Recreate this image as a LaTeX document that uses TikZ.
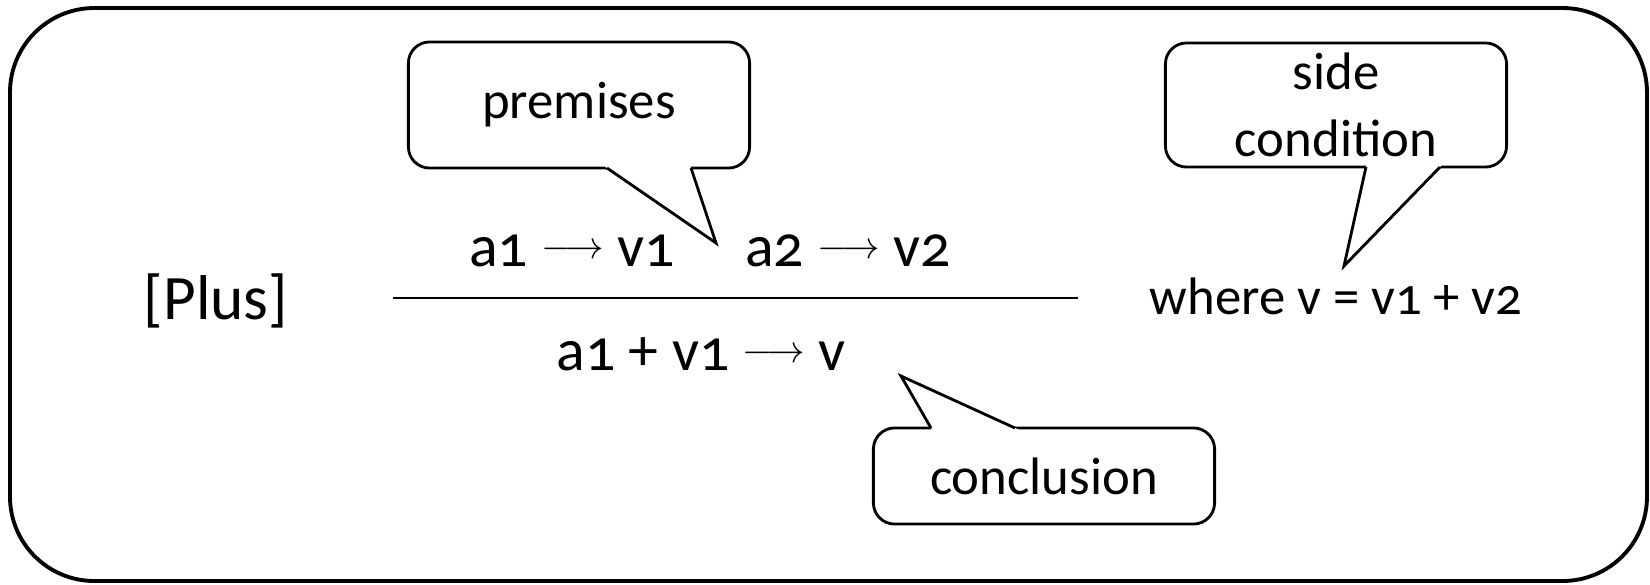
\documentclass[tikz,border=0pt]{standalone}
\usepackage{fontspec}
\setmainfont{Carlito}[Numbers=OldStyle]
\usetikzlibrary{calc}
\newcommand{\yields}{\raisebox{2pt}{\fontsize{11}{11}\selectfont$\longrightarrow$}}

\begin{document}
\begin{tikzpicture}[
  x=0.01cm, y=-0.01cm,
  every node/.style={inner sep=0pt},
  outer/.style={draw, line width=1.1pt, rounded corners=24pt},
  formula/.style={font=\fontsize{17}{21}\selectfont, anchor=base},
  note/.style={font=\fontsize{15}{19}\selectfont, align=center},
  bubble/.style={note, draw, line width=0.8pt, rounded corners=6pt,
                 minimum width=3.41cm},
  tail/.style={line width=0.8pt, line join=miter},
  bar/.style={line width=0.7pt}
]
\useasboundingbox (0,0) rectangle (1650,584);
\draw[outer] (10,8) rectangle (1647,581);

% the rule
\node[formula, font=\fontsize{18}{22}\selectfont] (rule) at (216,319) {[Plus]};
\node[formula] (prem1) at (572,266) {a1 \yields{} v1};
\node[formula] (prem2) at (848,266) {a2 \yields{} v2};
\node[formula] (concl) at (701,370) {a1 + v1 \yields{} v};
\coordinate (barL) at (393,298);
\coordinate (barR) at (1078,298);
\draw[bar] (barL) -- (barR);
\node[note, anchor=base west] (cond) at (1149,314) {where v = v1 + v2};

% callouts
\node[bubble, minimum height=1.26cm] (premBox) at (579,105) {premises};
\coordinate (premA) at (607,168);
\coordinate (premB) at (691,168);
\coordinate (premTip) at (716,243);
\fill[white] ($(premA)!-0.08!(premTip)$) -- (premTip) -- ($(premB)!-0.08!(premTip)$) -- cycle;
\draw[tail] (premA) -- (premTip) -- (premB);

\node[bubble, minimum height=1.24cm] (sideBox) at (1336,105) {side\\condition};
\coordinate (sideA) at (1366,167);
\coordinate (sideB) at (1440,167);
\coordinate (sideTip) at (1344,266);
\fill[white] ($(sideA)!-0.08!(sideTip)$) -- (sideTip) -- ($(sideB)!-0.08!(sideTip)$) -- cycle;
\draw[tail] (sideA) -- (sideTip) -- (sideB);

\node[bubble, minimum height=0.96cm] (conclBox) at (1044,476) {conclusion};
\coordinate (conclA) at (931,428);
\coordinate (conclB) at (1015,428);
\coordinate (conclTip) at (901,376);
\fill[white] ($(conclA)!-0.08!(conclTip)$) -- (conclTip) -- ($(conclB)!-0.08!(conclTip)$) -- cycle;
\draw[tail] (conclA) -- (conclTip) -- (conclB);
\end{tikzpicture}
\end{document}
